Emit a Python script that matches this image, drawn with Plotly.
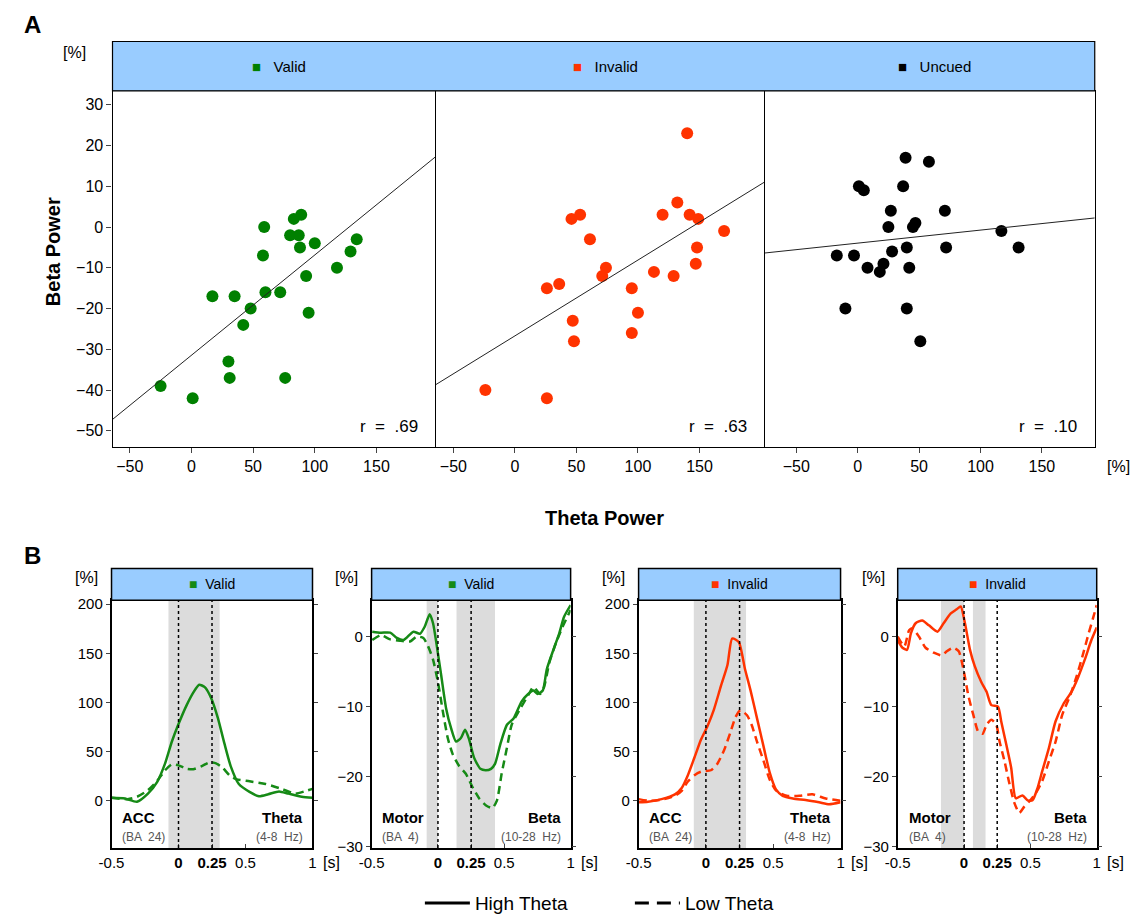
import plotly.graph_objects as go

W, H = 1148, 924
FONT = "Arial, Liberation Sans, sans-serif"

# ---------------- Panel A data ----------------
conditions = ["Valid", "Invalid", "Uncued"]
cond_colors = ["#008000", "#FF3300", "#000000"]

valid_theta = [-25, 1, 17, 35, 30, 31, 42, 48, 59, 58, 60, 72, 76, 80, 83, 89, 87, 88, 100, 93, 95, 118, 129, 134]
valid_beta = [-39, -42, -17, -17, -33, -37, -24, -20, 0, -7, -16, -16, -37, -2, 2, 3, -2, -5, -4, -12, -21, -10, -6, -3]

invalid_theta = [-24, 26, 26, 36, 47, 48, 46, 53, 61, 74, 71, 95, 100, 95, 113, 120, 129, 132, 140, 142, 149, 148, 147, 170]
invalid_beta = [-40, -42, -15, -14, -23, -28, 2, 3, -3, -10, -12, -15, -21, -26, -11, 3, -12, 6, 23, 3, 2, -5, -9, -1]

uncued_theta = [-17, -3, -10, 1, 5, 8, 18, 21, 28, 25, 27, 37, 39, 40, 42, 40, 45, 47, 51, 58, 71, 72, 117, 131]
uncued_beta = [-7, -7, -20, 10, 9, -10, -11, -9, -6, 0, 4, 10, 17, -5, -10, -20, 0, 1, -28, 16, 4, -5, -1, -5]

fit_slope = [0.246, 0.186, 0.032]
fit_intercept = [-31.45, -26.7, -3.95]
r_labels = ["r  =  .69", "r  =  .63", "r  =  .10"]

a_xticks = [-50, 0, 50, 100, 150]
a_yticks = [30, 20, 10, 0, -10, -20, -30, -40, -50]

# ---------------- Panel B data ----------------
b_titles = ["Valid", "Valid", "Invalid", "Invalid"]
b_colors = ["#168a16", "#168a16", "#FF3300", "#FF3300"]
b_region = ["ACC", "Motor", "ACC", "Motor"]
b_ba = ["(BA  24)", "(BA  4)", "(BA  24)", "(BA  4)"]
b_band = ["Theta", "Beta", "Theta", "Beta"]
b_hz = ["(4-8  Hz)", "(10-28  Hz)", "(4-8  Hz)", "(10-28  Hz)"]

b1_high_t = [-0.5, -0.40, -0.31, -0.23, -0.16, -0.10, -0.05, 0, 0.06, 0.11, 0.154, 0.196, 0.245, 0.294, 0.343, 0.39, 0.45, 0.53, 0.60, 0.67, 0.75, 0.82, 0.92, 1.0]
b1_high_v = [3, 2.3, -1, 7, 19, 38, 60, 78, 97, 110, 118, 115.5, 104, 84, 58, 35, 17, 9, 4.6, 6.6, 9.5, 7.2, 4, 3]
b1_low_t = [-0.5, -0.38, -0.31, -0.23, -0.16, -0.10, -0.05, 0, 0.06, 0.11, 0.17, 0.23, 0.28, 0.33, 0.38, 0.43, 0.53, 0.65, 0.77, 0.87, 0.94, 1.0]
b1_low_v = [3, 1.6, 4, 10.5, 20, 31, 37, 36, 32.5, 32, 35, 39, 38, 33.5, 26, 22, 19.7, 17, 12, 7.2, 9.5, 12]

b2_high_t = [-0.495, -0.43, -0.36, -0.31, -0.26, -0.185, -0.136, -0.10, -0.062, -0.037, -0.012, 0.025, 0.062, 0.099, 0.136, 0.173, 0.205, 0.235, 0.272, 0.32, 0.36, 0.40, 0.43, 0.47, 0.52, 0.57, 0.63, 0.68, 0.72, 0.75, 0.79, 0.82, 0.87, 0.915, 0.95, 1.0]
b2_high_v = [0.7, 0.56, 0.56, -0.2, -0.5, 0.7, 0.4, 1.4, 3.2, 1.9, -0.9, -5.6, -10.3, -13.1, -15, -14.5, -13.3, -14.7, -17.3, -18.9, -19.1, -18.9, -18.2, -15.4, -12.6, -11.7, -9.3, -8.2, -7.7, -8.2, -7.7, -4.7, -1.9, 0.5, 2.8, 4.5]
b2_low_t = [-0.495, -0.43, -0.36, -0.28, -0.21, -0.16, -0.11, -0.074, -0.037, 0, 0.037, 0.074, 0.111, 0.16, 0.21, 0.26, 0.31, 0.36, 0.41, 0.445, 0.48, 0.52, 0.556, 0.62, 0.68, 0.72, 0.77, 0.80, 0.84, 0.89, 0.94, 1.0]
b2_low_v = [-0.5, 0.2, -0.4, -0.6, -0.7, 0, -0.2, -1.4, -3.3, -6.5, -10.7, -14.5, -16.8, -18.5, -19.6, -21.5, -23.1, -24.1, -24.5, -23.4, -19.6, -15.9, -12.6, -10.3, -8.4, -7.2, -8.2, -7.2, -3.7, -0.9, 1.4, 3.8]

b3_high_t = [-0.5, -0.43, -0.33, -0.23, -0.18, -0.134, -0.085, -0.037, 0.012, 0.06, 0.11, 0.16, 0.195, 0.244, 0.29, 0.33, 0.38, 0.43, 0.475, 0.52, 0.57, 0.646, 0.74, 0.84, 0.915, 1.0]
b3_high_v = [-1.6, -1, 1.6, 6.5, 13, 26, 44, 62, 76, 93, 116, 138, 165, 161.5, 134, 113, 83.5, 54, 28, 11.5, 5, 2.3, 0.7, -1.6, -3.6, -1.6]
b3_low_t = [-0.5, -0.43, -0.33, -0.23, -0.18, -0.134, -0.085, -0.037, 0.037, 0.085, 0.134, 0.183, 0.22, 0.256, 0.305, 0.34, 0.378, 0.427, 0.475, 0.524, 0.6, 0.695, 0.79, 0.89, 1.0]
b3_low_v = [1.6, 0, 1, 5, 10, 19.6, 26, 29.5, 31, 37.7, 51, 70, 85, 92, 87, 77, 60.6, 41, 21, 10, 5, 5, 6.5, 2.3, 0]

b4_high_t = [-0.5, -0.464, -0.43, -0.40, -0.365, -0.315, -0.265, -0.20, -0.154, -0.10, -0.055, -0.025, 0.007, 0.045, 0.08, 0.13, 0.17, 0.206, 0.256, 0.28, 0.318, 0.355, 0.39, 0.44, 0.48, 0.516, 0.553, 0.59, 0.64, 0.69, 0.75, 0.81, 0.86, 0.91, 0.96, 1.0]
b4_high_v = [-0.5, -1.6, -1.9, 0.5, 1.9, 2.3, 1.6, 0.7, 1.9, 3.3, 3.9, 4.3, 1.9, -1.9, -4.2, -6.5, -7.9, -9.8, -10, -12.1, -15.4, -18.7, -23.1, -22.7, -23.4, -23.4, -21.7, -19.2, -15.9, -12.1, -9.6, -7.9, -5.8, -3.3, -0.5, 1.3]
b4_low_t = [-0.5, -0.45, -0.414, -0.39, -0.34, -0.29, -0.228, -0.166, -0.13, -0.08, -0.04, 0, 0.032, 0.07, 0.107, 0.14, 0.17, 0.206, 0.243, 0.268, 0.305, 0.342, 0.38, 0.417, 0.454, 0.49, 0.54, 0.59, 0.64, 0.69, 0.74, 0.80, 0.85, 0.90, 0.94, 0.975, 1.0]
b4_low_v = [0, -1.4, 0.9, 1.2, 0, -1.6, -2.3, -2.7, -2.1, -1.6, -2.1, -5.1, -8.4, -11.2, -13.6, -13.9, -12.6, -11.9, -12.6, -15, -17.8, -21, -23.8, -25.2, -24.3, -23.6, -22.4, -20.6, -17.8, -15, -11.2, -8.4, -5.6, -2.3, 0.5, 2.8, 4.5]

shade_start = [[-0.075], [-0.085, 0.14], [-0.09], [-0.174, 0.067]]
shade_end = [[0.307], [0.0, 0.43], [0.298], [0.0, 0.162]]
event_times = [0, 0.25]

b_xticks = [-0.5, 0, 0.25, 0.5, 1]
b_xticktext = ["-0.5", "<b>0</b>", "<b>0.25</b>", "0.5", "1"]
theta_yticks = [0, 50, 100, 150, 200]
beta_yticks = [-30, -20, -10, 0]

legend_names = ["High Theta", "Low Theta"]

# ---------------- layout geometry (pixels) ----------------
def px(x):
    return x / W

def py(y):
    return 1 - y / H

a_x_px = [(101, 429), (429, 763), (763, 1098)]
a_y_px = (87, 448)
a_xranges = [[-64, 198], [-64.4, 203], [-75.7, 193]]
a_yrange = [-54, 33.4]

b_x_px = [(100, 304), (364, 566), (635, 840), (898, 1100)]
b_y_px = (603, 854)
b_yranges = [[-48, 204], [-30.2, 5.2], [-48, 204], [-30.2, 5.2]]
b_yticks = [theta_yticks, beta_yticks, theta_yticks, beta_yticks]

fig = go.Figure()
layout = {}
shapes = []
annotations = []

# ---------------- Panel A ----------------
a_x = [valid_theta, invalid_theta, uncued_theta]
a_y = [valid_beta, invalid_beta, uncued_beta]
for i in range(3):
    n = i + 1
    xa = "x" if n == 1 else f"x{n}"
    ya = "y" if n == 1 else f"y{n}"
    fig.add_trace(go.Scatter(
        x=a_x[i], y=a_y[i], mode="markers", xaxis=xa, yaxis=ya,
        marker=dict(size=12, color=cond_colors[i]), showlegend=False))
    xr = a_xranges[i]
    fig.add_trace(go.Scatter(
        x=xr, y=[fit_slope[i] * v + fit_intercept[i] for v in xr],
        mode="lines", xaxis=xa, yaxis=ya,
        line=dict(color="#222222", width=1), showlegend=False))
    key = "" if n == 1 else str(n)
    layout["xaxis" + key] = dict(
        domain=[px(a_x_px[i][0]), px(a_x_px[i][1])], anchor=ya, range=xr,
        tickvals=a_xticks, ticks="outside", ticklen=5, tickwidth=1.2,
        showline=True, linecolor="black", linewidth=1.2, mirror=True,
        showgrid=False, zeroline=False,
        tickfont=dict(size=16, color="black", family=FONT))
    layout["yaxis" + key] = dict(
        domain=[py(a_y_px[1]), py(a_y_px[0])], anchor=xa, range=a_yrange,
        tickvals=a_yticks, ticks="outside" if n == 1 else "",
        ticklen=5, tickwidth=1.2, showticklabels=(n == 1),
        showline=True, linecolor="black", linewidth=1.2, mirror=(n == 3),
        showgrid=False, zeroline=False,
        tickfont=dict(size=16, color="black", family=FONT))
    annotations.append(dict(
        x=px(a_x_px[i][1] - 16), y=py(427), text=r_labels[i],
        xanchor="right", font=dict(size=17)))
    cx = (a_x_px[i][0] + a_x_px[i][1]) / 2
    annotations.append(dict(
        x=px(cx + 5), y=py(62),
        text=f"<span style='color:{cond_colors[i]}'>■</span>   {conditions[i]}",
        font=dict(size=15)))

shapes.append(dict(type="rect", xref="paper", yref="paper",
                   x0=px(101), x1=px(1098), y0=py(87), y1=py(37),
                   fillcolor="#99CCFF", line=dict(color="black", width=1.2)))

annotations += [
    dict(x=px(20), y=py(20), text="<b>A</b>", font=dict(size=24)),
    dict(x=px(62), y=py(48), text="[%]", font=dict(size=16)),
    dict(x=px(1122), y=py(468), text="[%]", font=dict(size=16)),
    dict(x=px(600), y=py(520), text="<b>Theta Power</b>", font=dict(size=20)),
    dict(x=px(40), y=py(250), text="<b>Beta Power</b>", font=dict(size=20), textangle=-90),
    dict(x=px(20), y=py(558), text="<b>B</b>", font=dict(size=24)),
]

# ---------------- Panel B ----------------
b_high = [(b1_high_t, b1_high_v), (b2_high_t, b2_high_v), (b3_high_t, b3_high_v), (b4_high_t, b4_high_v)]
b_low = [(b1_low_t, b1_low_v), (b2_low_t, b2_low_v), (b3_low_t, b3_low_v), (b4_low_t, b4_low_v)]

for i in range(4):
    n = i + 4
    xa, ya = f"x{n}", f"y{n}"
    fig.add_trace(go.Scatter(
        x=b_low[i][0], y=b_low[i][1], mode="lines", xaxis=xa, yaxis=ya,
        line=dict(color=b_colors[i], width=2.5, dash="8px,5px", shape="spline", smoothing=0.6),
        showlegend=False))
    fig.add_trace(go.Scatter(
        x=b_high[i][0], y=b_high[i][1], mode="lines", xaxis=xa, yaxis=ya,
        line=dict(color=b_colors[i], width=2.5, shape="spline", smoothing=0.6),
        showlegend=False))
    x0p, x1p = b_x_px[i]
    layout[f"xaxis{n}"] = dict(
        domain=[px(x0p), px(x1p)], anchor=ya, range=[-0.5, 1],
        tickvals=b_xticks, ticktext=b_xticktext, ticks="inside", ticklen=4,
        showline=True, linecolor="black", linewidth=1.5, mirror=True,
        showgrid=False, zeroline=False,
        tickfont=dict(size=15, color="black", family=FONT))
    layout[f"yaxis{n}"] = dict(
        domain=[py(b_y_px[1]), py(b_y_px[0])], anchor=xa, range=b_yranges[i],
        tickvals=b_yticks[i], ticks="outside", ticklen=4,
        showline=True, linecolor="black", linewidth=1.5, mirror="ticks",
        showgrid=False, zeroline=False,
        tickfont=dict(size=15, color="black", family=FONT))
    for s0, s1 in zip(shade_start[i], shade_end[i]):
        shapes.append(dict(type="rect", xref=xa, yref=f"{ya} domain",
                           x0=s0, x1=s1, y0=0, y1=1, layer="below",
                           fillcolor="#DCDCDC", line=dict(width=0)))
    for t in event_times:
        shapes.append(dict(type="line", xref=xa, yref=f"{ya} domain",
                           x0=t, x1=t, y0=0, y1=1,
                           line=dict(color="black", width=1.5, dash="dot")))
    shapes.append(dict(type="rect", xref="paper", yref="paper",
                       x0=px(x0p), x1=px(x1p), y0=py(603), y1=py(571),
                       fillcolor="#99CCFF", line=dict(color="black", width=1.5)))
    annotations.append(dict(
        x=px((x0p + x1p) / 2), y=py(587),
        text=f"<span style='color:{b_colors[i]}'>■</span>  {b_titles[i]}",
        font=dict(size=14)))
    annotations.append(dict(x=px(x0p - 25), y=py(580), text="[%]", font=dict(size=16)))
    annotations.append(dict(x=px(x1p + 19), y=py(869), text="[s]", font=dict(size=16)))
    annotations.append(dict(x=px(x0p + 9), y=py(823), text=f"<b>{b_region[i]}</b>",
                            xanchor="left", font=dict(size=15)))
    annotations.append(dict(x=px(x0p + 9), y=py(843), text=b_ba[i],
                            xanchor="left", font=dict(size=12, color="#555555")))
    annotations.append(dict(x=px(x1p - 8), y=py(823), text=f"<b>{b_band[i]}</b>",
                            xanchor="right", font=dict(size=15)))
    annotations.append(dict(x=px(x1p - 8), y=py(843), text=b_hz[i],
                            xanchor="right", font=dict(size=12, color="#555555")))

# legend entries
fig.add_trace(go.Scatter(x=[None], y=[None], mode="lines", name=legend_names[0],
                         line=dict(color="black", width=3), xaxis="x4", yaxis="y4"))
fig.add_trace(go.Scatter(x=[None], y=[None], mode="lines", name=legend_names[1],
                         line=dict(color="black", width=3, dash="14px,8px"), xaxis="x4", yaxis="y4"))

for a in annotations:
    a.setdefault("xref", "paper")
    a.setdefault("yref", "paper")
    a.setdefault("showarrow", False)
    a.setdefault("xanchor", "center")
    a.setdefault("yanchor", "middle")
    f = a.setdefault("font", {})
    f.setdefault("color", "black")
    f.setdefault("family", FONT)

fig.update_layout(
    width=W, height=H,
    margin=dict(l=0, r=0, t=0, b=0),
    paper_bgcolor="white", plot_bgcolor="white",
    font=dict(family=FONT, color="black"),
    shapes=shapes, annotations=annotations,
    showlegend=True,
    legend=dict(orientation="h", x=px(413), xanchor="left", y=py(910), yanchor="middle",
                font=dict(size=19, color="black", family=FONT), entrywidth=150,
                itemwidth=45, bgcolor="rgba(0,0,0,0)"),
    **layout,
)

fig.write_html("out.html", config={"displayModeBar": False},
               post_script="document.body.style.margin='0';document.body.style.overflow='hidden';")
